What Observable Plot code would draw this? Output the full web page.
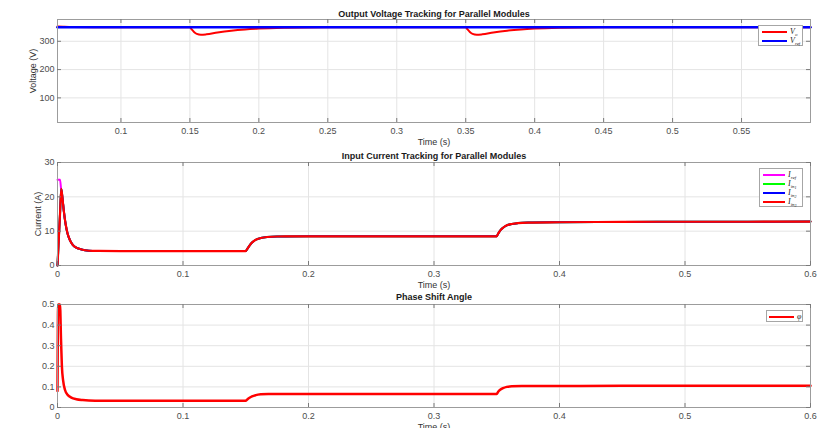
<!DOCTYPE html>
<html>
<head>
<meta charset="utf-8">
<script src="https://cdn.jsdelivr.net/npm/d3@7"></script>
<script src="https://cdn.jsdelivr.net/npm/@observablehq/plot@0.6"></script>
<style>
  html, body { margin: 0; padding: 0; background: #fff; }
  #page { position: relative; width: 818px; height: 428px; overflow: hidden; font-family: "Liberation Sans", Arial, sans-serif; }
  .panel { position: absolute; left: 0; }
  .panel svg { overflow: visible; display: block; }
  .legend { position: absolute; background: #fff; border: 1px solid #a6a6a6; box-sizing: border-box; }
  .row { position: absolute; left: 0; height: 8px; }
  .sw { position: absolute; height: 2px; top: 3px; }
  .lab { position: absolute; top: -1px; font-family: "Liberation Serif", "DejaVu Serif", serif; font-style: italic; font-size: 8px; line-height: 9px; color: #222; white-space: nowrap; }
  .lab sub { font-size: 5px; vertical-align: -2px; line-height: 0; }
  .lab sub sub { font-size: 4px; vertical-align: -1px; }
</style>
</head>
<body>
<div id="page"></div>
<script>
// ---------- Panel 1: output voltage ----------
const voltTime = [0.054, 0.058, 0.065, 0.08, 0.15, 0.151, 0.153, 0.155, 0.158, 0.162, 0.17, 0.18, 0.19, 0.2, 0.22, 0.25, 0.3,
                  0.35, 0.351, 0.353, 0.355, 0.358, 0.362, 0.37, 0.38, 0.39, 0.4, 0.42, 0.45, 0.5, 0.6];
const voltVo   = [352.5, 351.5, 350.3, 350, 350, 344, 333, 326, 323, 324.5, 331, 337.5, 342, 345, 348, 349.6, 350,
                  350, 344, 333, 326, 323, 324.5, 331, 337.5, 342, 345, 348, 349.6, 350, 350];
const vrefTime = [0.054, 0.6];
const vrefVal  = [350, 350];
const voltXTicks = [0.1, 0.15, 0.2, 0.25, 0.3, 0.35, 0.4, 0.45, 0.5, 0.55];
const voltYTicks = [100, 200, 300];

// ---------- Panel 2: input currents ----------
const curTime = [0, 0.001, 0.002, 0.003, 0.004, 0.005, 0.0065, 0.008, 0.01, 0.012, 0.015, 0.018, 0.022, 0.028, 0.05, 0.15,
                 0.151, 0.153, 0.155, 0.158, 0.162, 0.167, 0.175, 0.2, 0.35,
                 0.351, 0.353, 0.355, 0.358, 0.362, 0.367, 0.375, 0.4, 0.45, 0.5, 0.55, 0.6];
const curIin   = [0, 7.5, 15, 22.3, 19.5, 16, 12, 9.3, 7.3, 6.1, 5.2, 4.8, 4.45, 4.25, 4.2, 4.2,
                  4.7, 5.8, 6.7, 7.5, 8.0, 8.3, 8.45, 8.5, 8.5,
                  9.2, 10.3, 11.0, 11.7, 12.1, 12.35, 12.5, 12.6, 12.7, 12.75, 12.75, 12.8];
const irefTime = [0, 0.002, 0.0028, 0.004, 0.005, 0.0065, 0.008, 0.01, 0.012, 0.015, 0.018, 0.022, 0.028, 0.05, 0.15];
const irefVal  = [25, 25, 22.5, 19.5, 16, 12, 9.3, 7.3, 6.1, 5.2, 4.8, 4.45, 4.25, 4.2, 4.2];
const curXTicks = [0, 0.1, 0.2, 0.3, 0.4, 0.5, 0.6];
const curYTicks = [0, 10, 20, 30];

// ---------- Panel 3: phase shift ----------
const phTime = [0, 0.0005, 0.002, 0.0028, 0.0035, 0.0045, 0.006, 0.008, 0.011, 0.015, 0.02, 0.03, 0.15,
                0.151, 0.153, 0.155, 0.158, 0.162, 0.168, 0.2, 0.35,
                0.351, 0.353, 0.355, 0.358, 0.362, 0.37, 0.45, 0.6];
const phVal  = [0.08, 0.5, 0.5, 0.33, 0.2, 0.13, 0.085, 0.062, 0.048, 0.04, 0.036, 0.033, 0.033,
                0.038, 0.047, 0.054, 0.06, 0.064, 0.066, 0.066, 0.066,
                0.075, 0.087, 0.094, 0.1, 0.103, 0.104, 0.105, 0.105];
const phXTicks = [0, 0.1, 0.2, 0.3, 0.4, 0.5, 0.6];
const phYTicks = [0, 0.1, 0.2, 0.3, 0.4, 0.5];

const rows = (ts, vs) => ts.map((t, i) => ({t, v: vs[i]}));
const fmt = d3.format("~g");

const W = 818, ML = 57, MR = 8;
const page = document.getElementById("page");

function panel(o) {
  const fh = o.height - o.mt - o.mb;
  const fw = W - ML - MR;
  const marks = [
    Plot.ruleX(o.xTicks, {x: d => d, stroke: "#e4e4e4"}),
    Plot.ruleY(o.yTicks, {y: d => d, stroke: "#e4e4e4"}),
    ...o.series.map(s => Plot.line(rows(s.t, s.v), {x: "t", y: "v", stroke: s.color, strokeWidth: s.w, curve: "monotone-x"})),
    Plot.frame({stroke: "#9c9c9c"}),
    Plot.tickX(o.xTicks, {x: d => d, stroke: "#7a7a7a", insetTop: fh - 4}),
    Plot.tickX(o.xTicks, {x: d => d, stroke: "#7a7a7a", insetBottom: fh - 4}),
    Plot.tickY(o.yTicks, {y: d => d, stroke: "#7a7a7a", insetRight: fw - 4}),
    Plot.tickY(o.yTicks, {y: d => d, stroke: "#7a7a7a", insetLeft: fw - 4}),
    Plot.axisX(o.xTicks, {tickSize: 0, tickPadding: 5, fontSize: 9, color: "#4d4d4d", label: null, tickFormat: fmt}),
    Plot.axisY(o.yTicks, {tickSize: 0, tickPadding: 3, fontSize: 9, color: "#4d4d4d", label: null, tickFormat: fmt}),
    Plot.text([o.title], {text: d => d, frameAnchor: "top", lineAnchor: "middle", dy: o.titleDy, fontWeight: "bold", fontSize: 9, fill: "#1a1a1a"}),
    Plot.text(["Time (s)"], {text: d => d, frameAnchor: "bottom", lineAnchor: "middle", dy: o.xlabDy, fontSize: 9, fill: "#333"})
  ];
  if (o.ylabel) marks.push(Plot.text([o.ylabel], {text: d => d, frameAnchor: "left", textAnchor: "middle", lineAnchor: "middle", dx: o.ylabDx, rotate: -90, fontSize: 9, fill: "#333"}));
  const chart = Plot.plot({
    width: W, height: o.height,
    marginLeft: ML, marginRight: MR, marginTop: o.mt, marginBottom: o.mb,
    x: {domain: o.xDomain},
    y: {domain: o.yDomain},
    style: {fontFamily: "'Liberation Sans', Arial, sans-serif", fontSize: "9px", background: "transparent", overflow: "visible"},
    marks
  });
  const div = document.createElement("div");
  div.className = "panel";
  div.style.top = o.top + "px";
  div.appendChild(chart);
  page.appendChild(div);
}

panel({
  top: 0, height: 150, mt: 19, mb: 28,
  xDomain: [0.054, 0.6], yDomain: [13, 377],
  xTicks: voltXTicks, yTicks: voltYTicks,
  series: [
    {t: voltTime, v: voltVo, color: "#ff0000", w: 2},
    {t: vrefTime, v: vrefVal, color: "#0000ff", w: 2.5}
  ],
  title: "Output Voltage Tracking for Parallel Modules", titleDy: -5.5, xlabDy: 20,
  ylabel: "Voltage (V)", ylabDx: -24
});

panel({
  top: 150, height: 135, mt: 12, mb: 20,
  xDomain: [0, 0.6], yDomain: [0, 30],
  xTicks: curXTicks, yTicks: curYTicks,
  series: [
    {t: irefTime, v: irefVal, color: "#ff00ff", w: 2},
    {t: curTime, v: curIin, color: "#00ff00", w: 2},
    {t: curTime, v: curIin, color: "#0000ff", w: 2},
    {t: curTime, v: curIin, color: "#ff0000", w: 2.2}
  ],
  title: "Input Current Tracking for Parallel Modules", titleDy: -6, xlabDy: 19.5,
  ylabel: "Current (A)", ylabDx: -19
});

panel({
  top: 285, height: 143, mt: 19, mb: 21,
  xDomain: [0, 0.6], yDomain: [0, 0.5],
  xTicks: phXTicks, yTicks: phYTicks,
  series: [
    {t: phTime, v: phVal, color: "#ff0000", w: 2.5}
  ],
  title: "Phase Shift Angle", titleDy: -7, xlabDy: 19.5,
  ylabel: null
});

// ---------- Legends ----------
function legend(box, items) {
  const lg = document.createElement("div");
  lg.className = "legend";
  lg.style.left = box.left + "px"; lg.style.top = box.top + "px";
  lg.style.width = box.w + "px"; lg.style.height = box.h + "px";
  items.forEach((it, i) => {
    const r = document.createElement("div");
    r.className = "row";
    r.style.top = (box.rowTop + i * box.step) + "px";
    r.style.width = "100%";
    const sw = document.createElement("div");
    sw.className = "sw";
    sw.style.left = box.swLeft + "px"; sw.style.width = box.swW + "px";
    sw.style.background = it.color;
    const lab = document.createElement("div");
    lab.className = "lab";
    lab.style.left = (box.swLeft + box.swW + 3) + "px";
    lab.innerHTML = it.html;
    r.appendChild(sw); r.appendChild(lab);
    lg.appendChild(r);
  });
  page.appendChild(lg);
}

legend({left: 758, top: 25, w: 45, h: 21, rowTop: 2, step: 9, swLeft: 3, swW: 25}, [
  {color: "#ff0000", html: "V<sub>o</sub>"},
  {color: "#0000ff", html: "V<sub>ref</sub>"}
]);
legend({left: 759, top: 168, w: 44, h: 39, rowTop: 2, step: 8.9, swLeft: 3, swW: 22}, [
  {color: "#ff00ff", html: "I<sub>ref</sub>"},
  {color: "#00ff00", html: "I<sub>in<sub>1</sub></sub>"},
  {color: "#0000ff", html: "I<sub>in<sub>2</sub></sub>"},
  {color: "#ff0000", html: "I<sub>in<sub>3</sub></sub>"}
]);
legend({left: 766, top: 310, w: 37, h: 12, rowTop: 1.5, step: 9, swLeft: 2, swW: 25}, [
  {color: "#ff0000", html: "φ"}
]);
</script>
</body>
</html>
